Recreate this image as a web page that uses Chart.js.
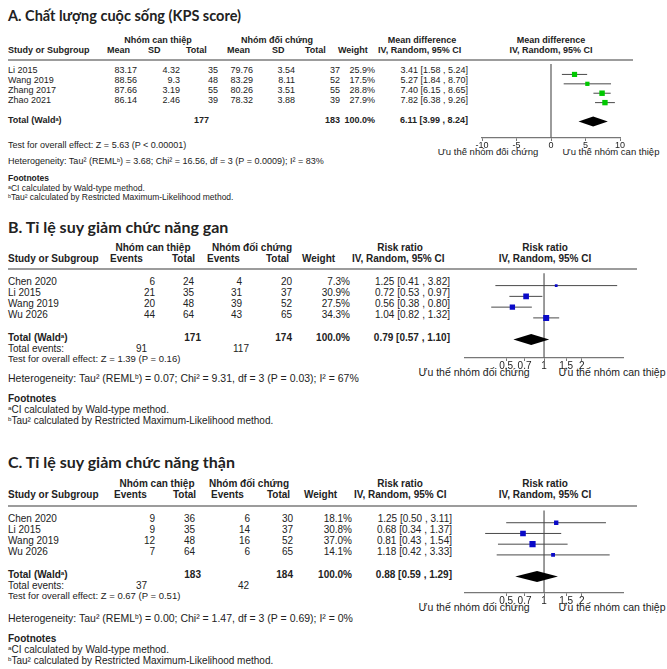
<!DOCTYPE html>
<html>
<head>
<meta charset="utf-8">
<script src="https://cdn.jsdelivr.net/npm/chart.js@4/dist/chart.umd.min.js"></script>
<style>
html, body { margin: 0; padding: 0; background: #fff; }
#page { position: relative; width: 667px; height: 669px; overflow: hidden;
        font-family: "Liberation Sans", Arial, sans-serif; color: #222; }
.t { position: absolute; white-space: nowrap; line-height: 1; }
.sep { position: absolute; height: 2px; background: #9c9c9c; }
canvas { position: absolute; }
sup { font-size: 0.62em; vertical-align: 0.45em; line-height: 0; }
</style>
</head>
<body>
<div id="page"></div>
<script>
// ---------- A. Quality of life (KPS score): mean difference ----------
const studiesA  = ['Li 2015', 'Wang 2019', 'Zhang 2017', 'Zhao 2021'];
const meanIntA  = [83.17, 88.56, 87.66, 86.14];
const sdIntA    = [4.32, 9.3, 3.19, 2.46];
const nIntA     = [35, 48, 55, 39];
const meanCtlA  = [79.76, 83.29, 80.26, 78.32];
const sdCtlA    = [3.54, 8.11, 3.51, 3.88];
const nCtlA     = [37, 52, 55, 39];
const weightA   = [25.9, 17.5, 28.8, 27.9];
const mdA       = [3.41, 5.27, 7.40, 7.82];
const loA       = [1.58, 1.84, 6.15, 6.38];
const hiA       = [5.24, 8.70, 8.65, 9.26];
const pooledA   = [6.11, 3.99, 8.24];
const ticksA    = [-10, -5, 0, 5, 10];

// ---------- B. Liver function decline: risk ratio ----------
const studiesB  = ['Chen 2020', 'Li 2015', 'Wang 2019', 'Wu 2026'];
const evIntB    = [6, 21, 20, 44];
const nIntB     = [24, 35, 48, 64];
const evCtlB    = [4, 31, 39, 43];
const nCtlB     = [20, 37, 52, 65];
const weightB   = [7.3, 30.9, 27.5, 34.3];
const rrB       = [1.25, 0.72, 0.56, 1.04];
const loB       = [0.41, 0.53, 0.38, 0.82];
const hiB       = [3.82, 0.97, 0.80, 1.32];
const pooledB   = [0.79, 0.57, 1.10];

// ---------- C. Kidney function decline: risk ratio ----------
const studiesC  = ['Chen 2020', 'Li 2015', 'Wang 2019', 'Wu 2026'];
const evIntC    = [9, 9, 12, 7];
const nIntC     = [36, 35, 48, 64];
const evCtlC    = [6, 14, 16, 6];
const nCtlC     = [30, 37, 52, 65];
const weightC   = [18.1, 30.8, 37.0, 14.1];
const rrC       = [1.25, 0.68, 0.81, 1.18];
const loC       = [0.50, 0.34, 0.43, 0.42];
const hiC       = [3.11, 1.37, 1.54, 3.33];
const pooledC   = [0.88, 0.59, 1.29];
const ticksRR   = [0.5, 0.7, 1, 1.5, 2];

const TOTAL_WEIGHT = '100.0%';

const page = document.getElementById('page');
const sum = a => a.reduce((s, v) => s + v, 0);
const ciText = (e, l, h) => e.toFixed(2) + ' [' + l.toFixed(2) + ' , ' + h.toFixed(2) + ']';

function txt(s, x, y, o = {}) {
  const d = document.createElement('div');
  d.className = 't';
  d.innerHTML = s;
  const fs = o.size || 9;
  d.style.fontSize = fs + 'px';
  if (o.bold) d.style.fontWeight = 'bold';
  if (o.font) d.style.fontFamily = o.font;
  d.style.top = (y - fs * 0.55) + 'px';
  if (o.align === 'right') d.style.right = (667 - x) + 'px';
  else if (o.align === 'center') { d.style.left = x + 'px'; d.style.transform = 'translateX(-50%)'; }
  else d.style.left = x + 'px';
  page.appendChild(d);
}
function sep(x1, x2, y) {
  const d = document.createElement('div');
  d.className = 'sep';
  d.style.left = x1 + 'px'; d.style.width = (x2 - x1) + 'px'; d.style.top = (y - 1) + 'px';
  page.appendChild(d);
}

// vertical line of no effect, from the header rule down to the axis
const nullLine = {
  id: 'nullLine',
  beforeDatasetsDraw(chart, args, opts) {
    const { ctx, chartArea, scales } = chart;
    const px = scales.x.getPixelForValue(opts.value);
    ctx.save();
    ctx.strokeStyle = '#666'; ctx.lineWidth = 1.3;
    ctx.beginPath(); ctx.moveTo(px, chartArea.top); ctx.lineTo(px, chartArea.bottom); ctx.stroke();
    ctx.restore();
  }
};
// pooled-estimate diamond
const diamond = {
  id: 'diamond',
  afterDatasetsDraw(chart, args, opts) {
    const { ctx, scales: { x, y } } = chart;
    const cy = y.getPixelForValue(opts.row);
    const xe = x.getPixelForValue(opts.est), xl = x.getPixelForValue(opts.lo), xh = x.getPixelForValue(opts.hi);
    ctx.save();
    ctx.fillStyle = '#000';
    ctx.beginPath();
    ctx.moveTo(xl, cy); ctx.lineTo(xe, cy - opts.half); ctx.lineTo(xh, cy); ctx.lineTo(xe, cy + opts.half);
    ctx.closePath(); ctx.fill();
    ctx.restore();
  }
};

function forest(c) {
  const cv = document.createElement('canvas');
  const width = c.canvasR - c.canvasL;
  const height = c.axisY - c.sepY + c.tickBand;
  cv.width = width; cv.height = height;
  cv.style.left = c.canvasL + 'px'; cv.style.top = c.sepY + 'px';
  cv.style.width = width + 'px'; cv.style.height = height + 'px';
  page.appendChild(cv);

  const n = c.est.length;
  const datasets = [{
    data: c.est.map((e, i) => ({ x: e, y: i })),
    pointStyle: 'rect',
    pointRadius: c.weight.map(w => Math.sqrt(w) * 0.72),
    backgroundColor: c.color, borderWidth: 0, order: 0
  }];
  c.est.forEach((e, i) => datasets.push({
    data: [{ x: c.lo[i], y: i }, { x: c.hi[i], y: i }],
    showLine: true, pointRadius: 0, borderColor: '#4a4a4a', borderWidth: 1, order: 1
  }));

  new Chart(cv, {
    type: 'scatter',
    data: { datasets },
    options: {
      responsive: false, animation: false, events: [], devicePixelRatio: 1,
      layout: { padding: { left: c.axisL - c.canvasL, right: c.canvasR - c.axisR, top: 0, bottom: 0 } },
      plugins: {
        legend: { display: false }, tooltip: { enabled: false },
        nullLine: { value: c.nullValue },
        diamond: { est: c.pooled[0], lo: c.pooled[1], hi: c.pooled[2], row: n + 1, half: c.diamondHalf }
      },
      scales: {
        x: {
          type: c.log ? 'logarithmic' : 'linear', min: c.xMin, max: c.xMax,
          afterBuildTicks: s => { s.ticks = c.ticks.map(v => ({ value: v })); },
          afterFit: s => { s.height = c.tickBand; },
          grid: { drawOnChartArea: false, drawTicks: true, tickLength: 3, color: '#777' },
          border: { display: true, color: '#777', width: 1.3 },
          ticks: { font: { family: 'Liberation Sans', size: c.tickFs }, color: '#222', padding: -1,
                   maxRotation: 0, autoSkip: false, callback: v => String(v) }
        },
        y: { type: 'linear', display: false, reverse: true, min: c.yMin, max: c.yMax }
      }
    },
    plugins: [nullLine, diamond]
  });
}

// ================= Panel A =================
(function () {
  const fs = 9, title = 17, h1 = 41, h2 = 51, sepY = 60, row0 = 71, step = 9.9, axisY = 138;
  const rowY = i => row0 + i * step;
  const totY = rowY(studiesA.length + 1);
  txt('A. Chất lượng cuộc sống (KPS score)', 8, title, { size: 14.5, bold: true, font: 'Lato, "Open Sans", sans-serif' });
  txt('Nhóm can thiệp', 158, h1, { size: fs, bold: true, align: 'center' });
  txt('Nhóm đối chứng', 277, h1, { size: fs, bold: true, align: 'center' });
  txt('Mean difference', 422, h1, { size: fs, bold: true, align: 'center' });
  txt('Mean difference', 551, h1, { size: fs, bold: true, align: 'center' });
  txt('Study or Subgroup', 8, h2, { size: fs, bold: true });
  [['Mean', 107], ['SD', 148], ['Total', 186], ['Mean', 227], ['SD', 272], ['Total', 305], ['Weight', 338], ['IV, Random, 95% CI', 378]]
    .forEach(([s, x]) => txt(s, x, h2, { size: fs, bold: true }));
  txt('IV, Random, 95% CI', 551, h2, { size: fs, bold: true, align: 'center' });
  sep(8, 633, sepY);
  studiesA.forEach((s, i) => {
    const y = rowY(i);
    txt(s, 8, y, { size: fs });
    txt(String(meanIntA[i]), 137, y, { size: fs, align: 'right' });
    txt(String(sdIntA[i]), 180, y, { size: fs, align: 'right' });
    txt(String(nIntA[i]), 218, y, { size: fs, align: 'right' });
    txt(String(meanCtlA[i]), 253, y, { size: fs, align: 'right' });
    txt(String(sdCtlA[i]), 295, y, { size: fs, align: 'right' });
    txt(String(nCtlA[i]), 340, y, { size: fs, align: 'right' });
    txt(weightA[i].toFixed(1) + '%', 375, y, { size: fs, align: 'right' });
    txt(ciText(mdA[i], loA[i], hiA[i]), 468, y, { size: fs, align: 'right' });
  });
  txt('Total (Wald<sup>a</sup>)', 8, totY, { size: fs, bold: true });
  txt(String(sum(nIntA)), 209, totY, { size: fs, bold: true, align: 'right' });
  txt(String(sum(nCtlA)), 340, totY, { size: fs, bold: true, align: 'right' });
  txt(TOTAL_WEIGHT, 375, totY, { size: fs, bold: true, align: 'right' });
  txt(ciText(pooledA[0], pooledA[1], pooledA[2]), 468, totY, { size: fs, bold: true, align: 'right' });
  txt('Test for overall effect: Z = 5.63 (P &lt; 0.00001)', 8, 146, { size: fs });
  txt('Heterogeneity: Tau² (REML<sup>b</sup>) = 3.68; Chi² = 16.56, df = 3 (P = 0.0009); I² = 83%', 8, 162, { size: fs });
  txt('Footnotes', 8, 179, { size: 8.5, bold: true });
  txt('<sup>a</sup>CI calculated by Wald-type method.', 8, 189, { size: 8.5 });
  txt('<sup>b</sup>Tau² calculated by Restricted Maximum-Likelihood method.', 8, 198, { size: 8.5 });
  txt('Ưu thế nhóm đối chứng', 488, 152, { size: 9.5, align: 'center' });
  txt('Ưu thế nhóm can thiệp', 611, 152, { size: 9.5, align: 'center' });
  forest({
    est: mdA, lo: loA, hi: hiA, weight: weightA, pooled: pooledA, color: '#00c800',
    log: false, xMin: -10, xMax: 10, ticks: ticksA, nullValue: 0, tickFs: 9,
    canvasL: 440, canvasR: 650, axisL: 482, axisR: 620, sepY, axisY, tickBand: 12,
    yMin: (sepY - row0) / step, yMax: (axisY - row0) / step, diamondHalf: 5
  });
})();

// ================= Panels B and C (risk ratio) =================
function rrPanel(p) {
  const fs = p.fs, rowY = i => p.row0 + i * p.step;
  const n = p.studies.length, totY = rowY(n + 1);
  txt(p.title, 8, p.titleY, { size: 16, bold: true, font: 'Lato, "Open Sans", sans-serif' });
  txt('Nhóm can thiệp', p.hc1, p.h1, { size: fs, bold: true, align: 'center' });
  txt('Nhóm đối chứng', p.hc2, p.h1, { size: fs, bold: true, align: 'center' });
  txt('Risk ratio', p.hc3, p.h1, { size: fs, bold: true, align: 'center' });
  txt('Risk ratio', 545, p.h1, { size: fs, bold: true, align: 'center' });
  txt('Study or Subgroup', 8, p.h2, { size: fs, bold: true });
  ['Events', 'Total', 'Events', 'Total', 'Weight', 'IV, Random, 95% CI']
    .forEach((s, k) => txt(s, p.hx[k], p.h2, { size: fs, bold: true }));
  txt('IV, Random, 95% CI', 545, p.h2, { size: fs, bold: true, align: 'center' });
  sep(8, 637, p.sepY);
  const c = p.cols;
  p.studies.forEach((s, i) => {
    const y = rowY(i);
    txt(s, 8, y, { size: fs });
    txt(String(p.evInt[i]), c[0], y, { size: fs, align: 'right' });
    txt(String(p.nInt[i]), c[1], y, { size: fs, align: 'right' });
    txt(String(p.evCtl[i]), c[2], y, { size: fs, align: 'right' });
    txt(String(p.nCtl[i]), c[3], y, { size: fs, align: 'right' });
    txt(p.weight[i].toFixed(1) + '%', c[4], y, { size: fs, align: 'right' });
    txt(ciText(p.rr[i], p.lo[i], p.hi[i]), c[5], y, { size: fs, align: 'right' });
  });
  txt('Total (Wald<sup>a</sup>)', 8, totY, { size: fs, bold: true });
  txt(String(sum(p.nInt)), 201, totY, { size: fs, bold: true, align: 'right' });
  txt(String(sum(p.nCtl)), c[3], totY, { size: fs, bold: true, align: 'right' });
  txt(TOTAL_WEIGHT, c[4], totY, { size: fs, bold: true, align: 'right' });
  txt(ciText(p.pooled[0], p.pooled[1], p.pooled[2]), c[5], totY, { size: fs, bold: true, align: 'right' });
  txt('Total events:', 8, totY + 10.5, { size: fs });
  txt(String(sum(p.evInt)), 147, totY + 10.5, { size: fs, align: 'right' });
  txt(String(sum(p.evCtl)), 249, totY + 10.5, { size: fs, align: 'right' });
  txt(p.test, 8, totY + 21, { size: 9.5 });
  txt(p.het, 8, p.hetY, { size: 10.5 });
  txt('Footnotes', 8, p.hetY + 20, { size: fs, bold: true });
  txt('<sup>a</sup>CI calculated by Wald-type method.', 8, p.hetY + 31, { size: fs });
  txt('<sup>b</sup>Tau² calculated by Restricted Maximum-Likelihood method.', 8, p.hetY + 42, { size: fs });
  txt('Ưu thế nhóm đối chứng', 474, p.axisY + 15, { size: 10.5, align: 'center' });
  txt('Ưu thế nhóm can thiệp', 612, p.axisY + 15, { size: 10.5, align: 'center' });
  forest({
    est: p.rr, lo: p.lo, hi: p.hi, weight: p.weight, pooled: p.pooled, color: '#0a0ac8',
    log: true, xMin: 0.235, xMax: 4.25, ticks: ticksRR, nullValue: 1, tickFs: 10,
    canvasL: 440, canvasR: 650, axisL: 465, axisR: 623, sepY: p.sepY, axisY: p.axisY, tickBand: 13,
    yMin: (p.sepY - p.row0) / p.step, yMax: (p.axisY - p.row0) / p.step, diamondHalf: 5.5
  });
}

rrPanel({
  title: 'B. Tỉ lệ suy giảm chức năng gan', titleY: 228, fs: 10,
  h1: 248, h2: 259, sepY: 269, row0: 282, step: 11.3, axisY: 358, hetY: 379,
  hc1: 153, hc2: 252, hc3: 400, hx: [110, 172, 207, 266, 302, 352],
  cols: [155, 194, 242, 292, 350, 450],
  studies: studiesB, evInt: evIntB, nInt: nIntB, evCtl: evCtlB, nCtl: nCtlB,
  weight: weightB, rr: rrB, lo: loB, hi: hiB, pooled: pooledB,
  test: 'Test for overall effect: Z = 1.39 (P = 0.16)',
  het: 'Heterogeneity: Tau² (REML<sup>b</sup>) = 0.07; Chi² = 9.31, df = 3 (P = 0.03); I² = 67%'
});

rrPanel({
  title: 'C. Tỉ lệ suy giảm chức năng thận', titleY: 463, fs: 10,
  h1: 484, h2: 495, sepY: 506, row0: 519, step: 11.3, axisY: 593, hetY: 619,
  hc1: 157, hc2: 249, hc3: 400, hx: [114, 173, 211, 267, 304, 354],
  cols: [155, 195, 250, 293, 352, 452],
  studies: studiesC, evInt: evIntC, nInt: nIntC, evCtl: evCtlC, nCtl: nCtlC,
  weight: weightC, rr: rrC, lo: loC, hi: hiC, pooled: pooledC,
  test: 'Test for overall effect: Z = 0.67 (P = 0.51)',
  het: 'Heterogeneity: Tau² (REML<sup>b</sup>) = 0.00; Chi² = 1.47, df = 3 (P = 0.69); I² = 0%'
});
</script>
</body>
</html>
